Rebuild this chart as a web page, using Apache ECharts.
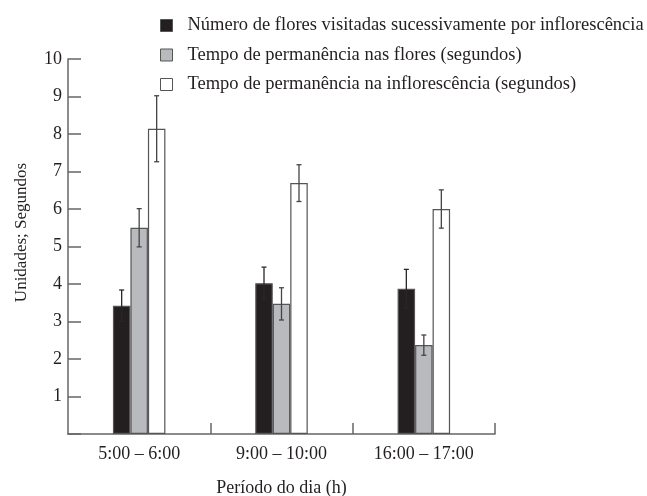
<!DOCTYPE html>
<html><head><meta charset="utf-8">
<script src="https://cdn.jsdelivr.net/npm/echarts@6/dist/echarts.min.js"></script>
<style>html,body{margin:0;padding:0;background:#fff}#c{width:647px;height:496px}</style>
</head><body><div id="c"></div>
<script>
const categories = ['5:00 – 6:00', '9:00 – 10:00', '16:00 – 17:00'];
const seriesNames = [
  'Número de flores visitadas sucessivamente por inflorescência',
  'Tempo de permanência nas flores (segundos)',
  'Tempo de permanência na inflorescência (segundos)'
];
const flores = [3.42, 4.02, 3.87];
const floresErr = [0.42, 0.43, 0.52];
const tempoFlores = [5.50, 3.47, 2.37];
const tempoFloresErr = [0.51, 0.43, 0.27];
const tempoInflo = [8.14, 6.69, 6.00];
const tempoInfloErr = [0.88, 0.49, 0.51];
const yTicks = [0, 1, 2, 3, 4, 5, 6, 7, 8, 9, 10];

const txt = '#231f20';
const font = '"Liberation Serif", "DejaVu Serif", serif';
const BW = 17.5;
const fills = ['#231f20', '#b9babe', '#ffffff'];
const values = [flores, tempoFlores, tempoInflo];
const errs = [floresErr, tempoFloresErr, tempoInfloErr];

const chart = echarts.init(document.getElementById('c'), null, {renderer: 'canvas'});

const barSeries = values.map((v, i) => ({
  name: seriesNames[i],
  type: 'bar',
  data: v,
  barWidth: BW,
  barGap: '0%',
  itemStyle: {color: fills[i], borderColor: '#555', borderWidth: 1.2},
  emphasis: {disabled: true}
}));

const errSeries = values.map((v, i) => ({
  type: 'custom',
  name: seriesNames[i] + ' err',
  data: v.map((val, k) => [k, val, val + errs[i][k], val - errs[i][k]]),
  z: 10,
  renderItem: function (params, api) {
    const k = api.value(0);
    const base = api.coord([k, api.value(1)]);
    const top = api.coord([k, api.value(2)]);
    const bot = api.coord([k, api.value(3)]);
    const x = base[0] + (i - 1) * BW;
    const cap = 2.5;
    const st = {stroke: i === 0 ? '#2a2627' : '#444', lineWidth: 1.3};
    return {type: 'group', children: [
      {type: 'line', shape: {x1: x, y1: top[1], x2: x, y2: bot[1]}, style: st},
      {type: 'line', shape: {x1: x - cap, y1: top[1], x2: x + cap, y2: top[1]}, style: st},
      {type: 'line', shape: {x1: x - cap, y1: bot[1], x2: x + cap, y2: bot[1]}, style: st}
    ]};
  },
  encode: {x: 0, y: 1},
  silent: true
}));

chart.setOption({
  animation: false,
  backgroundColor: '#fff',
  textStyle: {fontFamily: font, color: txt},
  legend: {
    orient: 'vertical',
    left: 155,
    top: 11,
    padding: 5,
    itemWidth: 12,
    itemHeight: 12,
    itemGap: 10.5,
    icon: 'rect',
    textStyle: {fontFamily: font, fontSize: 18.5, lineHeight: 18.5, color: txt, padding: [0, 0, 0, 10]},
    data: seriesNames.map((n, i) => ({name: n, itemStyle: {color: fills[i], borderColor: '#555', borderWidth: 1}}))
  },
  grid: {left: 68, right: 152, top: 59, bottom: 62, containLabel: false, outerBoundsMode: 'none'},
  xAxis: {
    type: 'category',
    data: categories,
    name: 'Período do dia (h)',
    nameLocation: 'middle',
    nameGap: 45,
    nameTextStyle: {fontFamily: font, fontSize: 18, color: txt},
    axisLine: {lineStyle: {color: '#666', width: 1.5}},
    axisTick: {show: true, inside: true, length: 11, lineStyle: {color: '#666', width: 1.5},
      interval: function (idx) { return idx === 1 || idx === 2; }},
    axisLabel: {fontFamily: font, fontSize: 18, color: txt, margin: 11}
  },
  yAxis: {
    type: 'value',
    min: yTicks[0],
    max: yTicks[yTicks.length - 1],
    interval: 1,
    name: 'Unidades; Segundos',
    nameLocation: 'middle',
    nameGap: 38,
    nameRotate: 90,
    nameTextStyle: {fontFamily: font, fontSize: 17, color: txt, padding: [0, 0, 0, 28]},
    splitLine: {show: false},
    axisLine: {show: true, lineStyle: {color: '#666', width: 1.5}},
    axisTick: {show: true, inside: true, length: 13, lineStyle: {color: '#666', width: 1.5}},
    axisLabel: {fontFamily: font, fontSize: 18, color: txt, margin: 6,
      formatter: v => (v === 0 ? '' : String(v))}
  },
  series: barSeries.concat(errSeries)
});
</script></body></html>
